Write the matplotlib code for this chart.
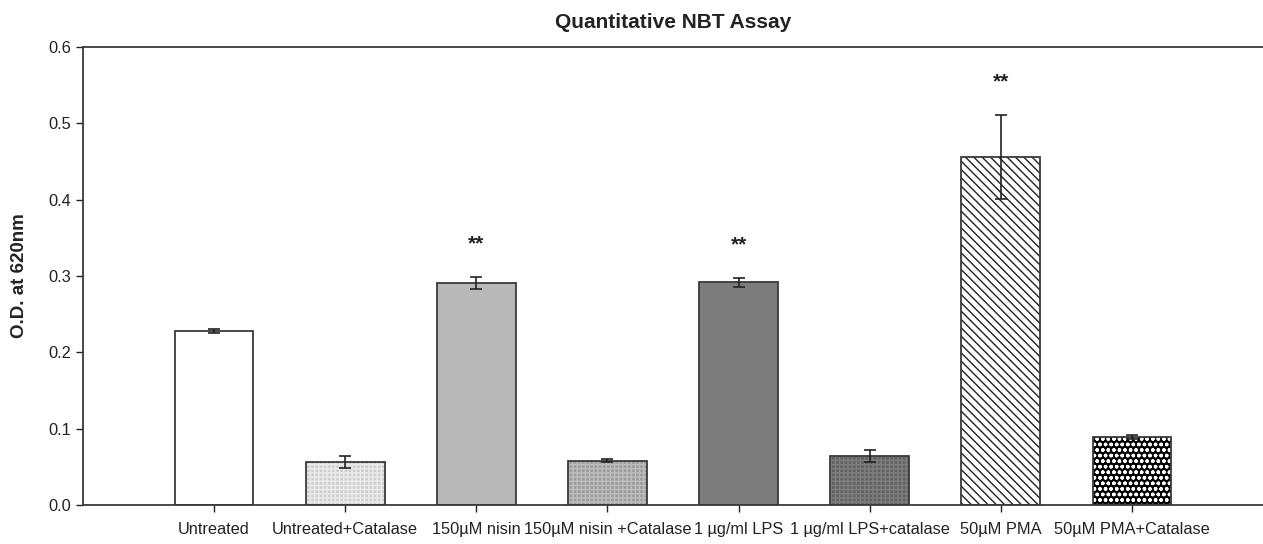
import matplotlib
matplotlib.use("Agg")
import matplotlib.pyplot as plt
import numpy as np

categories = ["Untreated", "Untreated+Catalase", "150µM nisin", "150µM nisin +Catalase",
              "1 µg/ml LPS", "1 µg/ml LPS+catalase", "50µM PMA", "50µM PMA+Catalase"]
values = [0.228, 0.056, 0.291, 0.058, 0.292, 0.064, 0.456, 0.089]
errors = [0.003, 0.008, 0.008, 0.002, 0.006, 0.008, 0.055, 0.003]
significant = [False, False, True, False, True, False, True, False]
yticks = [0.0, 0.1, 0.2, 0.3, 0.4, 0.5, 0.6]

plt.rcParams['font.family'] = ['Liberation Sans', 'DejaVu Sans']

faces = ['white', '#cfcfcf', '#b8b8b8', '#9c9c9c', '#7c7c7c', '#626262', 'white', 'black']
hatches = [None, '++++', None, '++++', None, '++++', '\\\\\\\\', 'ooo']
hatch_cols = ['white', '#ebebeb', '#b8b8b8', '#bdbdbd', '#7c7c7c', '#7e7e7e', '#222222', 'white']

fig = plt.figure(figsize=(12.63, 5.44), dpi=100)
ax = fig.add_axes([83/1263, 1-505/544, 1-83/1263, (505-47)/544])

x = np.arange(len(categories))
for i in range(len(categories)):
    ax.bar(x[i], values[i], width=0.6, color=faces[i], hatch=hatches[i],
           edgecolor=hatch_cols[i], linewidth=0, zorder=2)
ax.bar(x, values, width=0.6, fill=False, edgecolor='#3a3a3a', linewidth=1.3, zorder=3)
ax.errorbar(x, values, yerr=errors, fmt='none', ecolor='#222222', elinewidth=1.2,
            capsize=4.5, capthick=1.2, zorder=4)

for i in range(len(categories)):
    if significant[i]:
        ax.text(x[i], values[i] + errors[i] + 0.043, "**", ha='center', va='center',
                fontsize=15, fontweight='bold', color='#222222')

ax.set_xlim(-1, 8)
ax.set_ylim(0, 0.6)
ax.set_yticks(yticks)
ax.set_yticklabels([f"{t:.1f}" for t in yticks])
ax.set_xticks(x)
ax.set_xticklabels(categories)
ax.tick_params(axis='both', labelsize=11.8, colors='#222222', direction='out', length=5, width=1)
ax.tick_params(axis='x', pad=7)
for s in ['left', 'top', 'bottom']:
    ax.spines[s].set_color('#3a3a3a')
    ax.spines[s].set_linewidth(1.3)
ax.spines['right'].set_visible(False)

ax.set_ylabel("O.D. at 620nm", fontsize=13.5, fontweight='bold', color='#222222')
ax.yaxis.set_label_coords(-(83-28)/1180, 0.5)
ax.set_title("Quantitative NBT Assay", fontsize=15, fontweight='bold', color='#222222', pad=14)

fig.savefig("out.png", dpi=100)
